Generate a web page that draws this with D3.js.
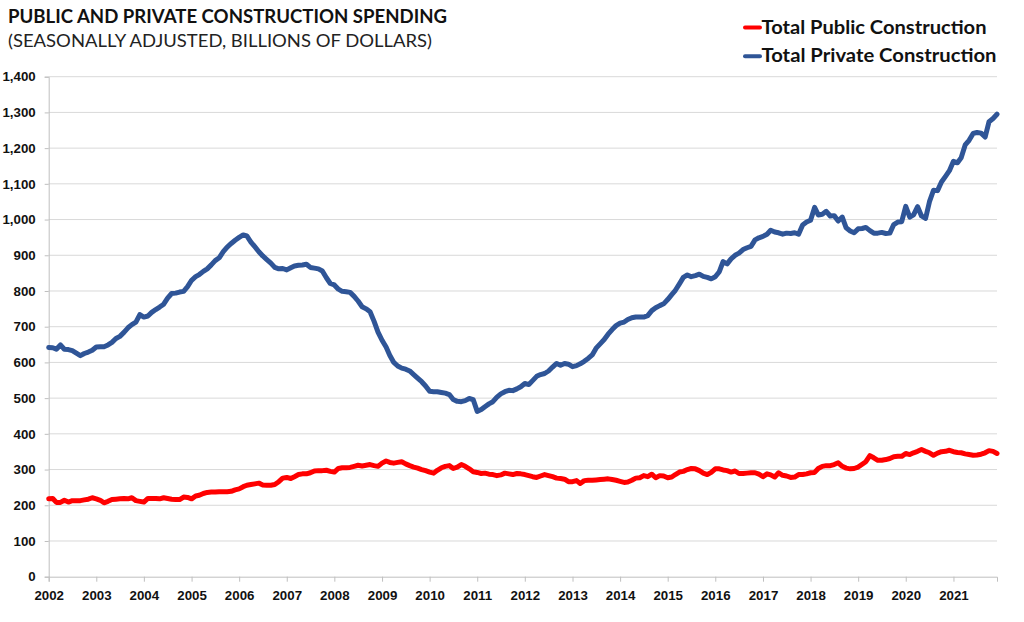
<!DOCTYPE html>
<html>
<head>
<meta charset="utf-8">
<script src="https://cdn.jsdelivr.net/npm/d3@7"></script>
<style>
  body { margin: 0; background: #fff; }
  svg { display: block; font-family: Lato, "Open Sans", sans-serif; }
</style>
</head>
<body>
<svg id="chart"></svg>
<script>
// monthly values, Jan 2002 .. Dec 2021 (billions of dollars, SAAR)
const startYear = 2002
const yearLabels = d3.range(2002, 2022)
const yTicks = d3.range(0, 1401, 100)

const publicSpending = [
  218,219,208,208,214,209,213,213,213,215,217,221,
  218,214,207,211,216,217,218,219,218,221,213,211,
  209,219,219,219,218,221,219,217,216,216,223,222,
  218,226,228,233,236,237,237,238,238,238,239,243,
  246,252,256,258,260,262,257,256,256,258,266,276,
  278,275,280,286,288,288,291,296,297,297,298,295,
  293,303,305,305,306,309,312,310,312,314,311,309,
  318,324,320,318,320,322,316,311,307,304,300,297,
  293,290,298,305,309,311,303,307,314,309,302,294,
  292,289,290,287,286,283,285,290,288,286,289,288,
  286,283,280,278,282,286,283,280,276,275,273,266,
  266,269,261,269,270,270,271,272,273,274,272,270,
  267,264,265,270,276,277,283,280,287,277,283,282,
  277,279,286,293,295,300,303,302,297,290,286,292,
  302,302,299,297,293,296,289,289,290,291,291,287,
  280,288,285,279,291,284,282,278,279,286,286,288,
  291,292,303,309,311,311,314,319,309,304,302,303,
  307,315,322,339,333,326,326,328,331,336,337,337,
  345,342,347,351,356,351,347,340,346,350,351,354,
  350,348,347,344,342,340,341,343,347,353,351,345
]

const privateSpending = [
  642,641,637,649,637,636,633,626,619,625,629,634,
  643,644,644,649,656,667,673,684,697,706,713,734,
  727,730,740,748,755,763,780,793,794,797,799,812,
  830,840,846,855,862,873,885,893,910,923,933,942,
  950,957,954,937,924,910,898,888,878,866,862,863,
  859,865,870,872,873,875,866,864,862,856,837,821,
  817,805,799,798,796,785,772,756,750,742,715,685,
  662,643,620,600,590,584,581,576,566,556,546,534,
  519,518,518,516,514,510,496,491,490,493,499,496,
  463,468,476,484,490,503,512,518,522,521,526,532,
  541,538,549,561,566,569,576,587,597,592,597,595,
  588,591,596,603,611,621,640,652,664,679,692,703,
  710,713,720,725,727,727,727,731,745,753,759,764,
  776,790,802,820,838,845,840,843,847,841,838,834,
  840,854,882,876,890,900,906,916,921,925,943,949,
  953,959,970,965,963,959,962,961,963,959,985,993,
  998,1034,1013,1015,1023,1010,1011,996,1007,977,968,963,
  974,975,978,969,962,962,964,961,962,986,993,994,
  1037,1007,1013,1036,1010,1003,1050,1082,1081,1105,1121,1137,
  1163,1159,1173,1209,1222,1241,1244,1242,1231,1274,1283,1295
]

const seriesNames = ['Total Public Construction', 'Total Private Construction']
const seriesColors = ['#ff0000', '#2f5597']

const w = 1024
const h = 622
const margin = {left: 48.7, right: 27, top: 76.7, bottom: 45.3}

const svg = d3.select('#chart')
  .attr('width', w)
  .attr('height', h)

const dates = publicSpending.map((d, i) => new Date(startYear, i, 1))

const xScale = d3.scaleTime()
  .domain([dates[0], dates[dates.length - 1]])
  .range([margin.left, w - margin.right])
const yScale = d3.scaleLinear()
  .domain([0, 1400])
  .range([h - margin.bottom, margin.top])

// gridlines
svg.append('g')
  .selectAll('line')
  .data(yTicks.slice(1))
  .enter()
  .append('line')
  .attr('x1', margin.left)
  .attr('x2', w - margin.right)
  .attr('y1', d => yScale(d))
  .attr('y2', d => yScale(d))
  .attr('stroke', '#d9d9d9')
  .attr('stroke-width', 1)

// y axis
const yAxis = d3.axisLeft(yScale)
  .tickValues(yTicks)
  .tickFormat(d3.format(','))
  .tickSize(4)
  .tickPadding(9)
const gy = svg.append('g')
  .attr('transform', `translate(${margin.left},0)`)
  .call(yAxis)
gy.select('.domain').attr('stroke', '#bfbfbf')
gy.selectAll('.tick line').attr('stroke', '#bfbfbf')
gy.selectAll('.tick text')
  .attr('fill', '#111')
  .style('font-size', '13.3px')
  .style('font-weight', 'bold')

// x axis
const xAxis = d3.axisBottom(xScale)
  .tickValues(yearLabels.map(y => new Date(y, 0, 1)))
  .tickFormat(d3.timeFormat('%Y'))
  .tickSize(5)
  .tickPadding(9)
const gx = svg.append('g')
  .attr('transform', `translate(0,${h - margin.bottom})`)
  .call(xAxis)
gx.select('.domain').attr('stroke', '#bfbfbf')
gx.selectAll('.tick line').attr('stroke', '#bfbfbf')
gx.selectAll('.tick text')
  .attr('fill', '#111')
  .style('font-size', '13.3px')
  .style('font-weight', 'bold')

// lines
const line = d3.line()
  .x((d, i) => xScale(dates[i]))
  .y(d => yScale(d))

;[publicSpending, privateSpending].forEach((s, k) => {
  svg.append('path')
    .datum(s)
    .attr('d', line)
    .attr('fill', 'none')
    .attr('stroke', seriesColors[k])
    .attr('stroke-width', 5)
    .attr('stroke-linejoin', 'round')
    .attr('stroke-linecap', 'round')
})

// titles
svg.append('text')
  .attr('x', 8)
  .attr('y', 23.3)
  .attr('textLength', 439)
  .attr('lengthAdjust', 'spacingAndGlyphs')
  .style('font-size', '19.5px')
  .style('font-weight', 'bold')
  .attr('fill', '#111')
  .text('PUBLIC AND PRIVATE CONSTRUCTION SPENDING')

svg.append('text')
  .attr('x', 8)
  .attr('y', 46.7)
  .attr('textLength', 424)
  .attr('lengthAdjust', 'spacingAndGlyphs')
  .style('font-size', '17px')
  .attr('fill', '#222')
  .text('(SEASONALLY ADJUSTED, BILLIONS OF DOLLARS)')

// legend
const legendW = [225, 235]
seriesNames.forEach((name, k) => {
  const ly = 27.5 + k * 28.7
  svg.append('line')
    .attr('x1', 745)
    .attr('x2', 760)
    .attr('y1', ly)
    .attr('y2', ly)
    .attr('stroke', seriesColors[k])
    .attr('stroke-width', 4)
    .attr('stroke-linecap', 'round')
  svg.append('text')
    .attr('x', 761.5)
    .attr('y', ly + 6)
    .attr('textLength', legendW[k])
    .attr('lengthAdjust', 'spacingAndGlyphs')
    .style('font-size', '19px')
    .style('font-weight', 'bold')
    .attr('fill', '#111')
    .text(name)
})
</script>
</body>
</html>
